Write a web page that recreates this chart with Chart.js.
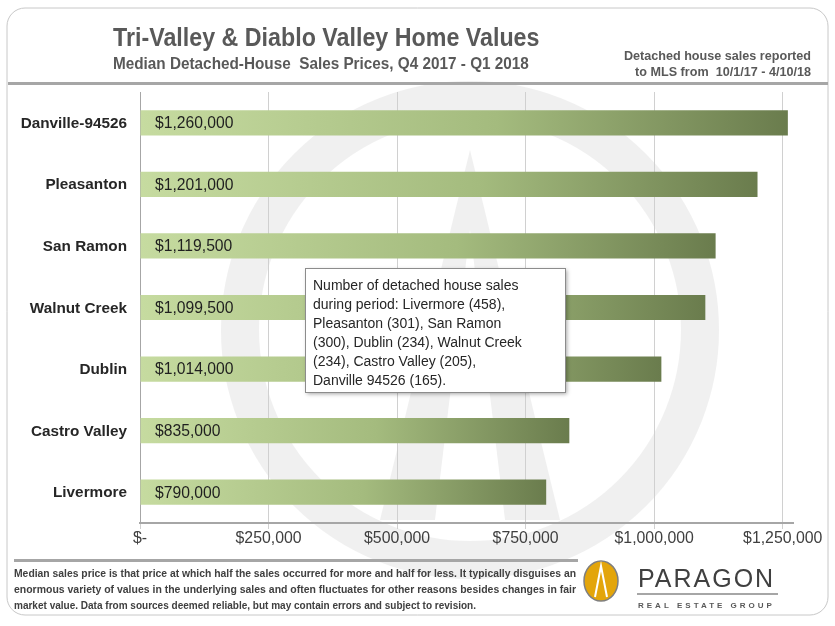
<!DOCTYPE html>
<html><head><meta charset="utf-8">
<script src="https://cdn.jsdelivr.net/npm/chart.js@4"></script>
<style>html,body{margin:0;padding:0;background:#fff}#wrap{width:835px;height:626px}</style>
</head><body><div id="wrap"><canvas id="c" width="835" height="626"></canvas></div>
<script>
const cities = ['Danville-94526', 'Pleasanton', 'San Ramon', 'Walnut Creek', 'Dublin', 'Castro Valley', 'Livermore'];
const medianPrices = [1260000, 1201000, 1119500, 1099500, 1014000, 835000, 790000];
const xTicks = [0, 250000, 500000, 750000, 1000000, 1250000];
const noteLines = ['Number of detached house sales', 'during period: Livermore (458),', 'Pleasanton (301), San Ramon', '(300), Dublin (234), Walnut Creek', '(234), Castro Valley (205),', 'Danville 94526 (165).'];
const footLines = ['Median sales price is that price at which half the sales occurred for more and half for less. It typically disguises an',
  'enormous variety of values in the underlying sales and often fluctuates for other reasons besides changes in fair',
  'market value. Data from sources deemed reliable, but may contain errors and subject to revision.'];
const FONT = '"Liberation Sans", sans-serif';

function money(v) { return v === 0 ? '$-' : '$' + v.toLocaleString('en-US'); }

// condensed text: draw squeezed horizontally
function narrowText(ctx, text, x, y, font, align, squeeze) {
    ctx.save();
    ctx.font = font;
    ctx.textAlign = align || 'left';
    ctx.translate(x, y);
    ctx.scale(squeeze || 0.8, 1);
    ctx.fillText(text, 0, 0);
    ctx.restore();
}

function roundRect(ctx, x, y, w, h, r) {
    ctx.beginPath();
    ctx.moveTo(x + r, y); ctx.arcTo(x + w, y, x + w, y + h, r); ctx.arcTo(x + w, y + h, x, y + h, r);
    ctx.arcTo(x, y + h, x, y, r); ctx.arcTo(x, y, x + w, y, r); ctx.closePath();
}

const decor = {
    id: 'decor',
    beforeDraw(chart) {
        const ctx = chart.ctx;
        ctx.save();
        ctx.fillStyle = '#fff'; ctx.fillRect(0, 0, 835, 626);
        roundRect(ctx, 7, 8, 821, 607, 18);
        ctx.strokeStyle = '#c8c8c8'; ctx.lineWidth = 1; ctx.stroke();
        // watermark
        ctx.strokeStyle = 'rgba(225,225,225,0.5)'; ctx.lineWidth = 38;
        ctx.beginPath(); ctx.arc(470, 330, 230, 0, Math.PI * 2); ctx.stroke();
        ctx.fillStyle = 'rgba(225,225,225,0.5)';
        ctx.beginPath(); ctx.moveTo(470, 150); ctx.lineTo(560, 520); ctx.lineTo(380, 520); ctx.closePath(); ctx.fill();
        ctx.fillStyle = '#fff';
        ctx.beginPath(); ctx.moveTo(470, 230); ctx.lineTo(505, 520); ctx.lineTo(435, 520); ctx.closePath(); ctx.fill();
        // header
        ctx.fillStyle = '#595959';
        narrowText(ctx, 'Tri-Valley & Diablo Valley Home Values', 113, 46, 'bold 25px ' + FONT, 'left', 0.93);
        narrowText(ctx, 'Median Detached-House  Sales Prices, Q4 2017 - Q1 2018', 113, 69, 'bold 17px ' + FONT, 'left', 0.9);
        narrowText(ctx, 'Detached house sales reported', 811, 60, 'bold 13px ' + FONT, 'right', 0.97);
        narrowText(ctx, 'to MLS from  10/1/17 - 4/10/18', 811, 76, 'bold 13px ' + FONT, 'right', 0.97);
        ctx.fillStyle = '#a6a6a6'; ctx.fillRect(8, 82, 820, 3);
        ctx.fillRect(14, 559, 564, 3);
        ctx.restore();
    },
    afterDraw(chart) {
        const ctx = chart.ctx;
        ctx.save();
        // axis labels
        ctx.fillStyle = '#262626'; ctx.textBaseline = 'middle';
        const ys = chart.scales.y, xs = chart.scales.x;
        cities.forEach((c, i) => narrowText(ctx, c, 127, ys.getPixelForValue(i) + 1, 'bold 15px ' + FONT, 'right', 1.02));
        ctx.fillStyle = '#404040';
        xTicks.forEach(v => narrowText(ctx, money(v), xs.getPixelForValue(v), 539, '16px ' + FONT, 'center', 0.99));
        ctx.fillStyle = '#1f1f1f';
        chart.getDatasetMeta(0).data.forEach((bar, i) => narrowText(ctx, money(medianPrices[i]), 155, bar.y + 1, '16px ' + FONT, 'left', 0.98));
        ctx.textBaseline = 'alphabetic';
        // note box
        ctx.shadowColor = 'rgba(0,0,0,0.35)'; ctx.shadowBlur = 4; ctx.shadowOffsetX = 2; ctx.shadowOffsetY = 2;
        ctx.fillStyle = '#fff'; ctx.fillRect(305, 268, 260, 124);
        ctx.shadowColor = 'transparent';
        ctx.strokeStyle = '#8c8c8c'; ctx.lineWidth = 1; ctx.strokeRect(305.5, 268.5, 260, 124);
        ctx.fillStyle = '#262626'; ctx.font = '14px ' + FONT;
        noteLines.forEach((l, i) => ctx.fillText(l, 313, 290 + i * 19, 244));
        // footer
        ctx.fillStyle = '#404040'; ctx.font = 'bold 11.5px ' + FONT;
        ctx.fillText(footLines[0], 14, 577, 562);
        ctx.fillText(footLines[1], 14, 593, 562);
        ctx.fillText(footLines[2], 14, 609, 462);
        // logo
        ctx.fillStyle = '#e3a50b'; ctx.strokeStyle = '#7f7f7f'; ctx.lineWidth = 1.5;
        ctx.beginPath(); ctx.ellipse(601, 581, 17, 20, 0, 0, Math.PI * 2); ctx.fill(); ctx.stroke();
        ctx.strokeStyle = '#fff'; ctx.lineWidth = 2;
        ctx.beginPath(); ctx.moveTo(595, 597); ctx.lineTo(601, 566); ctx.lineTo(607, 597); ctx.stroke();
        ctx.fillStyle = '#404040'; ctx.font = '25px ' + FONT; ctx.letterSpacing = '2px';
        ctx.fillText('PARAGON', 638, 587, 142);
        ctx.fillStyle = '#a6a6a6'; ctx.fillRect(637, 593, 141, 2);
        ctx.fillStyle = '#595959'; ctx.font = 'bold 8px ' + FONT; ctx.letterSpacing = '3px';
        ctx.fillText('REAL ESTATE GROUP', 638, 608);
        ctx.restore();
    }
};

new Chart(document.getElementById('c'), {
    type: 'bar',
    data: {
        labels: cities,
        datasets: [{
            data: medianPrices,
            barPercentage: 0.41,
            categoryPercentage: 1,
            backgroundColor: function(context) {
                const chart = context.chart;
                if (!chart.chartArea) return '#9fb57a';
                const xs = chart.scales.x;
                const g = chart.ctx.createLinearGradient(xs.getPixelForValue(0), 0, xs.getPixelForValue(context.raw), 0);
                g.addColorStop(0, '#c6dba0');
                g.addColorStop(0.55, '#a4bb7e');
                g.addColorStop(1, '#6a7c4d');
                return g;
            }
        }]
    },
    options: {
        indexAxis: 'y',
        responsive: false,
        animation: false,
        layout: { padding: { top: 92, right: 42, bottom: 80, left: 0 } },
        plugins: { legend: { display: false }, tooltip: { enabled: false } },
        scales: {
            x: {
                min: 0, max: 1270000,
                afterBuildTicks: s => { s.ticks = xTicks.map(v => ({ value: v })); },
                grid: { color: '#d0d0d0', tickLength: 6 },
                border: { color: '#a6a6a6', width: 2 },
                ticks: { display: false },
                afterFit: s => { s.height = 23; }
            },
            y: {
                grid: { display: false },
                border: { color: '#a6a6a6', width: 1 },
                ticks: { display: false },
                afterFit: s => { s.width = 140; }
            }
        }
    },
    plugins: [decor]
});
</script></body></html>
